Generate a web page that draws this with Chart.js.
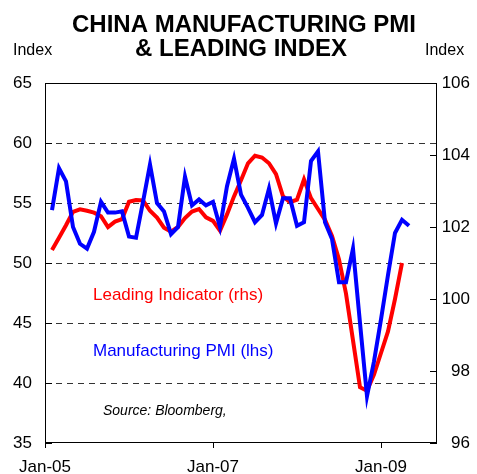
<!DOCTYPE html>
<html>
<head>
<meta charset="utf-8">
<script src="https://cdn.jsdelivr.net/npm/chart.js@4/dist/chart.umd.min.js"></script>
<style>
  html, body { margin: 0; padding: 0; background: #fff; }
  #wrap { width: 477px; height: 474px; position: relative; }
</style>
</head>
<body>
<div id="wrap"><canvas id="c" width="477" height="474"></canvas></div>
<script>
// ---- Data ----
const monthNames = ['Jan','Feb','Mar','Apr','May','Jun','Jul','Aug','Sep','Oct','Nov','Dec'];
const months = [
  'Feb-05','Mar-05','Apr-05','May-05','Jun-05','Jul-05','Aug-05','Sep-05','Oct-05','Nov-05','Dec-05',
  'Jan-06','Feb-06','Mar-06','Apr-06','May-06','Jun-06','Jul-06','Aug-06','Sep-06','Oct-06','Nov-06','Dec-06',
  'Jan-07','Feb-07','Mar-07','Apr-07','May-07','Jun-07','Jul-07','Aug-07','Sep-07','Oct-07','Nov-07','Dec-07',
  'Jan-08','Feb-08','Mar-08','Apr-08','May-08','Jun-08','Jul-08','Aug-08','Sep-08','Oct-08','Nov-08','Dec-08',
  'Jan-09','Feb-09','Mar-09','Apr-09','May-09'
];
const pmi = [
  54.4, 57.9, 56.8, 53.0, 51.6, 51.2, 52.6, 55.1, 54.2, 54.2, 54.3,
  52.2, 52.1, 55.1, 58.2, 55.0, 54.3, 52.4, 53.0, 57.2, 54.8, 55.3, 54.8,
  55.1, 53.0, 56.4, 58.7, 55.7, 54.6, 53.4, 54.0, 56.2, 53.3, 55.4, 55.4,
  53.1, 53.4, 58.5, 59.3, 53.4, 52.0, 48.4, 48.4, 51.2, 45.0, 38.9, 41.8,
  45.3, 49.0, 52.5, 53.6, 53.1
];
const leading = [
  101.36, 101.70, 102.05, 102.42, 102.49, 102.45, 102.40, 102.30, 102.00, 102.15, 102.22,
  102.70, 102.75, 102.74, 102.45, 102.26, 101.98, 101.87, 102.00, 102.25, 102.43, 102.50, 102.27,
  102.17, 101.90, 102.35, 102.85, 103.30, 103.77, 103.98, 103.93, 103.77, 103.47, 102.85, 102.69,
  102.76, 103.32, 102.80, 102.50, 102.20, 101.75, 101.10, 100.15, 98.85, 97.55, 97.45, 97.90,
  98.50, 99.10, 100.00, 101.00
];
const xTickLabels = ['Jan-05', 'Jan-07', 'Jan-09'];
const xEndLabel = 'Sep-09';
const leftTicks = [35, 40, 45, 50, 55, 60, 65];
const rightTicks = [96, 98, 100, 102, 104, 106];

function monthPos(label) {
  const parts = label.split('-');
  return (parseInt(parts[1], 10) - 5) * 12 + monthNames.indexOf(parts[0]);
}
const xTickValues = xTickLabels.map(monthPos);

const pmiPoints = pmi.map((v, i) => ({ x: monthPos(months[i]), y: v }));
const leadPoints = leading.map((v, i) => ({ x: monthPos(months[i]), y: v }));

Chart.defaults.font.family = "'Liberation Sans', Arial, sans-serif";
Chart.defaults.font.size = 17;
Chart.defaults.color = '#000';

const FONT = "'Liberation Sans', Arial, sans-serif";

const decor = {
  id: 'decor',
  afterDraw(chart) {
    const ctx = chart.ctx;
    const a = chart.chartArea;
    const yl = chart.scales.y, yr = chart.scales.y1;
    ctx.save();
    // plot border
    ctx.strokeStyle = '#000';
    ctx.lineWidth = 1;
    ctx.strokeRect(Math.round(a.left) + 0.5, Math.round(a.top) + 0.5,
                   Math.round(a.right - a.left) - 1, Math.round(a.bottom - a.top) - 1);
    // inward tick marks
    ctx.beginPath();
    yl.ticks.forEach(t => {
      const py = Math.round(yl.getPixelForValue(t.value)) + 0.5;
      ctx.moveTo(a.left, py); ctx.lineTo(a.left + 7, py);
    });
    yr.ticks.forEach(t => {
      const py = Math.round(yr.getPixelForValue(t.value)) + 0.5;
      ctx.moveTo(a.right, py); ctx.lineTo(a.right - 7, py);
    });
    ctx.stroke();
    // title
    ctx.fillStyle = '#000';
    ctx.textAlign = 'center';
    ctx.textBaseline = 'alphabetic';
    ctx.font = 'bold 24px ' + FONT;
    ctx.fillText('CHINA MANUFACTURING PMI', 244, 32);
    ctx.fillText('& LEADING INDEX', 241, 56);
    // axis unit labels
    ctx.font = '16px ' + FONT;
    ctx.textAlign = 'left';
    ctx.fillText('Index', 13, 55);
    ctx.fillText('Index', 425, 55);
    // annotations
    ctx.font = '17px ' + FONT;
    ctx.fillStyle = '#ff0000';
    ctx.fillText('Leading Indicator (rhs)', 93, 300);
    ctx.fillStyle = '#0000ff';
    ctx.fillText('Manufacturing PMI (lhs)', 93, 356);
    ctx.fillStyle = '#000';
    ctx.font = 'italic 14px ' + FONT;
    ctx.fillText('Source: Bloomberg,', 103, 415);
    ctx.restore();
  }
};

new Chart(document.getElementById('c'), {
  type: 'line',
  data: {
    datasets: [
      {
        label: 'Manufacturing PMI (lhs)',
        data: pmiPoints,
        yAxisID: 'y',
        borderColor: '#0000ff',
        borderWidth: 4,
        pointRadius: 0,
        tension: 0,
        fill: false
      },
      {
        label: 'Leading Indicator (rhs)',
        data: leadPoints,
        yAxisID: 'y1',
        borderColor: '#ff0000',
        borderWidth: 4,
        pointRadius: 0,
        tension: 0,
        fill: false
      }
    ]
  },
  options: {
    responsive: false,
    animation: false,
    devicePixelRatio: 1,
    layout: { padding: { top: 83, left: 0, right: 7, bottom: 0 } },
    plugins: { legend: { display: false }, tooltip: { enabled: false }, title: { display: false } },
    scales: {
      x: {
        type: 'linear',
        min: 0,
        max: monthPos(xEndLabel),
        afterBuildTicks: s => { s.ticks = xTickValues.map(v => ({ value: v })); },
        afterFit: s => { s.height = 31; },
        ticks: {
          autoSkip: false,
          maxRotation: 0,
          padding: 9,
          callback: v => xTickLabels[xTickValues.indexOf(v)]
        },
        grid: { drawOnChartArea: false, drawTicks: true, tickLength: 5, color: '#000', lineWidth: 1 },
        border: { display: false }
      },
      y: {
        type: 'linear',
        position: 'left',
        min: 35,
        max: 65,
        afterBuildTicks: s => { s.ticks = leftTicks.map(v => ({ value: v })); },
        afterFit: s => { s.width = 45; },
        ticks: { padding: 13, callback: v => String(v) },
        grid: {
          drawTicks: false,
          lineWidth: 1,
          color: c => (c.tick && (c.tick.value === 35 || c.tick.value === 65)) ? 'rgba(0,0,0,0)' : '#333'
        },
        border: { display: false, dash: [6, 5] }
      },
      y1: {
        type: 'linear',
        position: 'right',
        min: 96,
        max: 106,
        afterBuildTicks: s => { s.ticks = rightTicks.map(v => ({ value: v })); },
        afterFit: s => { s.width = 33; },
        ticks: { padding: 0, crossAlign: 'far', callback: v => String(v) },
        grid: { drawOnChartArea: false, drawTicks: false },
        border: { display: false }
      }
    }
  },
  plugins: [decor]
});
</script>
</body>
</html>
